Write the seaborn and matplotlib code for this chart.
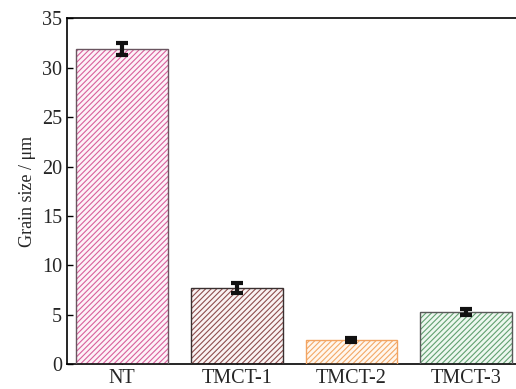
import matplotlib
matplotlib.use("Agg")
import matplotlib.pyplot as plt
import seaborn as sns
import pandas as pd
from matplotlib.patches import Rectangle

samples = ["NT", "TMCT-1", "TMCT-2", "TMCT-3"]
grain_size = [31.9, 7.7, 2.5, 5.3]
grain_err = [0.6, 0.5, 0.2, 0.3]
yticks = [0, 5, 10, 15, 20, 25, 30, 35]

face_colors = ["#fdf2f8", "#faf3f3", "#fff7ee", "#edf7ef"]
hatch_colors = ["#d8609c", "#8e4e4e", "#f3a866", "#62a070"]
edge_colors = ["#6a5560", "#3a3030", "#f2a462", "#5a5a5a"]

sns.set_theme(style="ticks")
plt.rcParams["font.family"] = ["Liberation Serif", "DejaVu Serif"]
plt.rcParams["hatch.linewidth"] = 0.8

df = pd.DataFrame({"sample": samples, "size": grain_size})

fig = plt.figure(figsize=(5.16, 3.89), dpi=100)
ax = fig.add_axes([0.1298, 0.063, 0.8702, 0.8907])

sns.barplot(data=df, x="sample", y="size", order=samples, width=0.8,
            errorbar=None, ax=ax, zorder=2)

for patch, fc, hc, ec in zip(ax.patches, face_colors, hatch_colors, edge_colors):
    patch.set_facecolor(fc)
    patch.set_edgecolor(hc)
    patch.set_hatch("//////")
    patch.set_linewidth(0)
    outline = Rectangle(patch.get_xy(), patch.get_width(), patch.get_height(),
                        fill=False, edgecolor=ec, linewidth=1.0, zorder=3)
    ax.add_patch(outline)

ax.errorbar(range(len(samples)), grain_size, yerr=grain_err, fmt="none",
            ecolor="#111111", elinewidth=3, capsize=4, capthick=3, zorder=4)

ax.set_xlim(-0.48, 3.435)
ax.set_ylim(0, 35)
ax.set_yticks(yticks)
ax.set_xlabel("")
ax.set_ylabel("Grain size / μm", fontsize=13)
ax.tick_params(axis="both", direction="in", labelsize=14.5, length=4,
               width=1, color="black")
for side in ["left", "bottom", "top"]:
    ax.spines[side].set_color("black")
    ax.spines[side].set_linewidth(1.2)
ax.spines["right"].set_visible(False)

fig.savefig("out.png", dpi=100)
